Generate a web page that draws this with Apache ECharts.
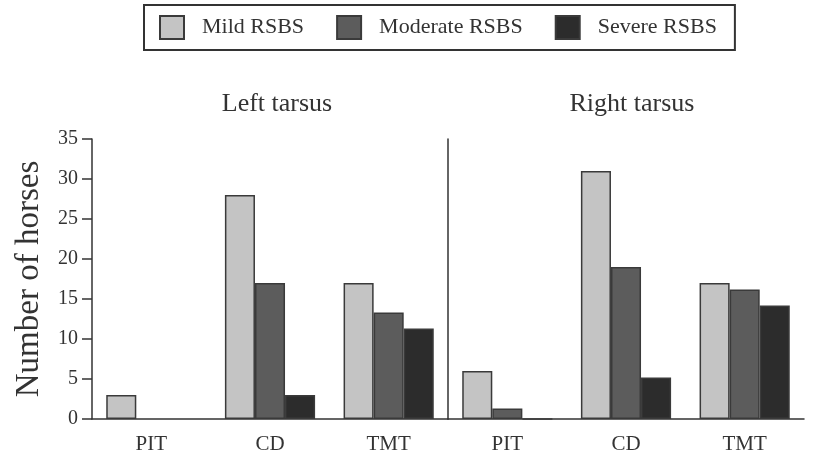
<!DOCTYPE html>
<html>
<head>
<meta charset="utf-8">
<script src="https://cdn.jsdelivr.net/npm/echarts@6/dist/echarts.min.js"></script>
<style>
  html, body { margin: 0; padding: 0; background: #fff; }
  #main { width: 813px; height: 458px; }
</style>
</head>
<body>
<div id="main"></div>
<script>
// categories / data
const sites = ['PIT', 'CD', 'TMT']
const panels = ['Left tarsus', 'Right tarsus']
const severity = ['Mild RSBS', 'Moderate RSBS', 'Severe RSBS']
const leftMild = [3, 28, 17]
const leftModerate = [0, 17, 13.3]
const leftSevere = [0, 3, 11.3]
const rightMild = [6, 31, 17]
const rightModerate = [1.3, 19, 16.2]
const rightSevere = [0, 5.2, 14.2]
const yTicks = [0, 5, 10, 15, 20, 25, 30, 35]

const colorArr = ['#c4c4c4', '#5c5c5c', '#2c2c2c']
const serif = '"Liberation Serif", "DejaVu Serif", serif'
const ink = '#333'

let chart = echarts.init(document.getElementById('main'))

function barSeries(name, idx, data, axisIdx) {
  return {
    name: name,
    type: 'bar',
    xAxisIndex: axisIdx,
    yAxisIndex: axisIdx,
    // left panel draws nothing for empty groups, right one keeps the hairline
    data: data.map(v => (v === 0 && axisIdx === 0) ? { value: v, itemStyle: { borderWidth: 0 } } : v),
    barGap: 0,
    barCategoryGap: '24%',
    itemStyle: {
      color: colorArr[idx],
      borderColor: '#3a3a3a',
      borderWidth: 1.5
    },
    emphasis: { disabled: true }
  }
}

function xAxis(gridIdx) {
  return {
    type: 'category',
    gridIndex: gridIdx,
    data: sites,
    axisLine: { lineStyle: { color: ink, width: 1.5 } },
    axisTick: { length: 11, interval: 0, lineStyle: { color: ink, width: 1.5 } },
    axisLabel: { color: ink, fontFamily: serif, fontSize: 21, margin: 15 }
  }
}

function yAxis(gridIdx, showLabels) {
  return {
    type: 'value',
    gridIndex: gridIdx,
    min: yTicks[0],
    max: yTicks[yTicks.length - 1],
    interval: 5,
    name: showLabels ? 'Number of horses' : '',
    nameLocation: 'middle',
    nameGap: 46,
    nameTextStyle: { color: ink, fontFamily: serif, fontSize: 33 },
    splitLine: { show: false },
    axisLine: { show: true, lineStyle: { color: ink, width: 1.5 } },
    axisTick: { show: showLabels, length: 10, lineStyle: { color: ink, width: 1.5 } },
    axisLabel: { show: showLabels, color: ink, fontFamily: serif, fontSize: 20, margin: 14 }
  }
}

let option = {
  animation: false,
  backgroundColor: '#fff',
  title: [
    {
      text: panels[0], left: 272, top: 86, textAlign: 'center',
      textStyle: { color: ink, fontFamily: serif, fontSize: 26, fontWeight: 'normal' }
    },
    {
      text: panels[1], left: 627, top: 86, textAlign: 'center',
      textStyle: { color: ink, fontFamily: serif, fontSize: 26, fontWeight: 'normal' }
    }
  ],
  legend: {
    data: severity,
    left: 144,
    top: 5,
    padding: [10, 18, 10, 15],
    itemGap: 32,
    itemWidth: 24,
    itemHeight: 23,
    icon: 'rect',
    borderColor: ink,
    borderWidth: 2,
    textStyle: { color: ink, fontFamily: serif, fontSize: 22, padding: [0, 0, 0, 13] }
  },
  grid: [
    { left: 92, width: 356, top: 139, bottom: 39 },
    { left: 448, width: 356, top: 139, bottom: 39 }
  ],
  xAxis: [xAxis(0), xAxis(1)],
  yAxis: [yAxis(0, true), yAxis(1, false)],
  series: [
    barSeries(severity[0], 0, leftMild, 0),
    barSeries(severity[1], 1, leftModerate, 0),
    barSeries(severity[2], 2, leftSevere, 0),
    barSeries(severity[0], 0, rightMild, 1),
    barSeries(severity[1], 1, rightModerate, 1),
    barSeries(severity[2], 2, rightSevere, 1)
  ]
}
chart.setOption(option)
</script>
</body>
</html>
